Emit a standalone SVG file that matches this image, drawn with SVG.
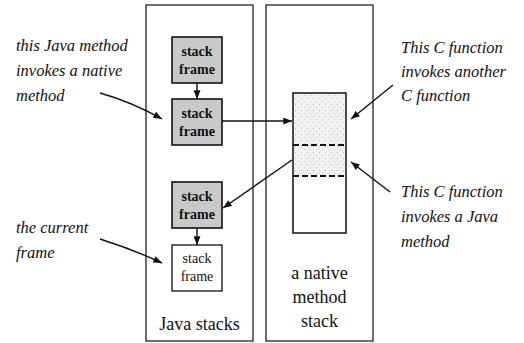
<svg xmlns="http://www.w3.org/2000/svg" width="524" height="343" viewBox="0 0 524 343">
<style>
.box{fill:#fff;stroke:#222;stroke-width:1.3}
.sf{fill:#c9c9c9;stroke:#111;stroke-width:1.6}
.sw{fill:#fff;stroke:#111;stroke-width:1.3}
text{font-family:'Liberation Serif',serif;fill:#111}
.ft{font-size:14px;text-anchor:middle}
.fb{font-weight:bold}
.lbl{font-size:18px;text-anchor:middle}
.it{font-size:16.5px;font-style:italic}
.ln{fill:none;stroke:#111;stroke-width:1.4}
.dash{fill:none;stroke:#111;stroke-width:2;stroke-dasharray:6,3}
</style>
<defs>
<marker id="ah" viewBox="0 0 10 8" refX="10" refY="4" markerWidth="9" markerHeight="7" markerUnits="userSpaceOnUse" orient="auto">
<path d="M0,0 L10,4 L0,8 Z" fill="#111"/>
</marker>
<pattern id="stip" width="6" height="6" patternUnits="userSpaceOnUse">
<rect width="6" height="6" fill="#f1f1f1"/>
<rect x="1" y="2" width="1" height="1" fill="#bbb"/>
<rect x="4" y="5" width="1" height="1" fill="#ccc"/>
</pattern>
</defs>
<g id="java-stacks">
<rect class="box" x="146" y="5" width="107" height="336"/>
<text class="lbl" x="199.5" y="330">Java stacks</text>
</g>
<g id="native-stack">
<rect class="box" x="266" y="5" width="107" height="336"/>
<rect x="293" y="93" width="53" height="83" fill="url(#stip)"/>
<rect x="293" y="93" width="53" height="140" fill="none" stroke="#111" stroke-width="1.5"/>
<line class="dash" x1="293" y1="145" x2="346" y2="145"/>
<line class="dash" x1="293" y1="176" x2="346" y2="176"/>
<text class="lbl" x="319.5" y="279">a native</text>
<text class="lbl" x="319.5" y="303">method</text>
<text class="lbl" x="319.5" y="327">stack</text>
</g>
<g id="frame1">
<rect class="sf" x="172" y="37" width="50" height="46"/>
<text class="ft fb" x="197" y="56">stack</text>
<text class="ft fb" x="197" y="74">frame</text>
</g>
<g id="frame2">
<rect class="sf" x="172" y="99" width="50" height="46"/>
<text class="ft fb" x="197" y="118">stack</text>
<text class="ft fb" x="197" y="136">frame</text>
</g>
<g id="frame3">
<rect class="sf" x="172" y="182" width="50" height="46"/>
<text class="ft fb" x="197" y="201">stack</text>
<text class="ft fb" x="197" y="219">frame</text>
</g>
<g id="frame4">
<rect class="sw" x="172" y="245" width="50" height="46"/>
<text class="ft" x="197" y="263">stack</text>
<text class="ft" x="197" y="281">frame</text>
</g>
<g id="notes">
<text class="it" x="16" y="51">this Java method</text>
<text class="it" x="16" y="76">invokes a native</text>
<text class="it" x="16" y="101">method</text>
<text class="it" x="16" y="233">the current</text>
<text class="it" x="16" y="258">frame</text>
<text class="it" x="401" y="53">This C function</text>
<text class="it" x="401" y="77">invokes another</text>
<text class="it" x="401" y="101">C function</text>
<text class="it" x="401" y="197">This C function</text>
<text class="it" x="401" y="222">invokes a Java</text>
<text class="it" x="401" y="247">method</text>
</g>
<g id="connectors">
<line class="ln" x1="197" y1="83" x2="197" y2="99" marker-end="url(#ah)"/>
<line class="ln" x1="197" y1="228" x2="197" y2="245" marker-end="url(#ah)"/>
<line class="ln" x1="222" y1="121" x2="292" y2="121" marker-end="url(#ah)"/>
<line class="ln" x1="292" y1="160" x2="223" y2="208" marker-end="url(#ah)"/>
<path class="ln" d="M100,93 Q132,102 162,119" marker-end="url(#ah)"/>
<path class="ln" d="M100,239 Q132,249 162,263" marker-end="url(#ah)"/>
<line class="ln" x1="393" y1="85" x2="351" y2="119" marker-end="url(#ah)"/>
<line class="ln" x1="390" y1="192" x2="351" y2="162" marker-end="url(#ah)"/>
</g>
</svg>
